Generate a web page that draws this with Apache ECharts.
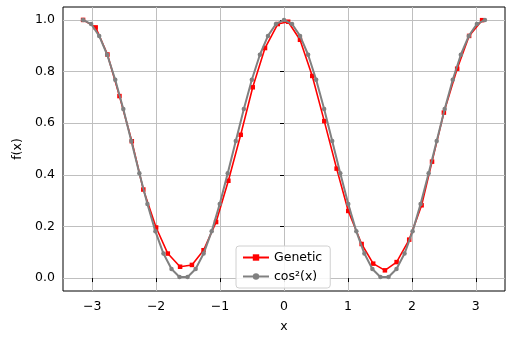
<!DOCTYPE html>
<html>
<head>
<meta charset="utf-8">
<script src="https://cdn.jsdelivr.net/npm/echarts@6/dist/echarts.min.js"></script>
<style>
  html, body { margin: 0; padding: 0; background: #fff; }
  #chart { width: 510px; height: 338px; }
</style>
</head>
<body>
<div id="chart"></div>
<script>
const geneticX = [-3.142, -2.945, -2.761, -2.573, -2.380, -2.200, -2.000, -1.817, -1.625, -1.440,
  -1.258, -1.062, -0.870, -0.677, -0.489, -0.297, -0.098, 0.065, 0.250, 0.442,
  0.630, 0.823, 1.005, 1.214, 1.395, 1.578, 1.761, 1.958, 2.152, 2.315,
  2.500, 2.708, 2.895, 3.098];
const geneticY = [1.000, 0.971, 0.866, 0.705, 0.530, 0.343, 0.196, 0.095, 0.044, 0.051,
  0.108, 0.217, 0.377, 0.555, 0.739, 0.891, 0.984, 0.993, 0.923, 0.783,
  0.608, 0.424, 0.260, 0.132, 0.056, 0.030, 0.062, 0.149, 0.282, 0.451,
  0.641, 0.811, 0.938, 0.999];

// cos²(x): grey dots
const cosX = [-3.142, -3.016, -2.890, -2.765, -2.639, -2.513, -2.388, -2.262, -2.136, -2.011,
  -1.885, -1.759, -1.634, -1.508, -1.382, -1.257, -1.131, -1.005, -0.880, -0.754,
  -0.628, -0.503, -0.377, -0.251, -0.126, 0.000, 0.126, 0.251, 0.377, 0.503,
  0.628, 0.754, 0.880, 1.005, 1.131, 1.257, 1.382, 1.508, 1.634, 1.759,
  1.885, 2.011, 2.136, 2.262, 2.388, 2.513, 2.639, 2.765, 2.890, 3.016, 3.142];
const cosY = [1.000, 0.984, 0.938, 0.865, 0.768, 0.655, 0.531, 0.406, 0.287, 0.181,
  0.095, 0.035, 0.004, 0.004, 0.035, 0.095, 0.181, 0.287, 0.406, 0.531,
  0.655, 0.768, 0.865, 0.938, 0.984, 1.000, 0.984, 0.938, 0.865, 0.768,
  0.655, 0.531, 0.406, 0.287, 0.181, 0.095, 0.035, 0.004, 0.004, 0.035,
  0.095, 0.181, 0.287, 0.406, 0.531, 0.655, 0.768, 0.865, 0.938, 0.984, 1.000];

const xTicks = [-3, -2, -1, 0, 1, 2, 3];
const yTicks = [0, 0.2, 0.4, 0.6, 0.8, 1.0];

const FONT = 'DejaVu Sans';

const chart = echarts.init(document.getElementById('chart'));

const minusFmt = function (v) {
  return v < 0 ? '\u2212' + Math.abs(v) : String(v);
};

const option = {
  animation: false,
  textStyle: { fontFamily: FONT },
  grid: {
    left: 63, right: 5, top: 7, bottom: 43,
    show: true, borderColor: '#000', borderWidth: 1, backgroundColor: 'transparent'
  },
  legend: {
    orient: 'vertical',
    left: 236, top: 246,
    itemWidth: 26, itemHeight: 8, itemGap: 6,
    padding: [5, 8, 5, 6],
    backgroundColor: 'rgba(255,255,255,0.85)',
    borderColor: '#d0d0d0', borderWidth: 1, borderRadius: 3,
    textStyle: { fontFamily: FONT, fontSize: 12.5, color: '#000' },
    data: ['Genetic', 'cos²(x)']
  },
  xAxis: {
    type: 'value',
    min: -3.456, max: 3.456,
    name: 'x', nameLocation: 'middle', nameGap: 29,
    nameTextStyle: { fontFamily: FONT, fontSize: 12.5, color: '#000' },
    axisLine: { show: false },
    axisTick: { show: true, length: 4, customValues: xTicks, lineStyle: { color: '#000', width: 1 } },
    axisLabel: { customValues: xTicks, formatter: minusFmt, margin: 9,
      fontFamily: FONT, fontSize: 12.5, color: '#000' },
    splitLine: { show: true, lineStyle: { color: '#bfbfbf', width: 1 } }
  },
  yAxis: {
    type: 'value',
    min: -0.05, max: 1.05,
    name: 'f(x)', nameLocation: 'middle', nameGap: 38,
    nameTextStyle: { fontFamily: FONT, fontSize: 12.5, color: '#000' },
    axisLine: { show: false },
    axisTick: { show: true, length: 4, customValues: yTicks, lineStyle: { color: '#000', width: 1 } },
    axisLabel: { customValues: yTicks, formatter: function (v) { return v.toFixed(1); }, margin: 8,
      fontFamily: FONT, fontSize: 12.5, color: '#000' },
    splitLine: { show: true, lineStyle: { color: '#bfbfbf', width: 1 } }
  },
  series: [
    {
      name: 'Genetic',
      type: 'line',
      data: geneticX.map((x, i) => [x, geneticY[i]]),
      symbol: 'rect', symbolSize: 4.5, showSymbol: true,
      lineStyle: { color: '#ff0000', width: 1.6 },
      itemStyle: { color: '#ff0000' },
      z: 3
    },
    {
      name: 'cos²(x)',
      type: 'line',
      data: cosX.map((x, i) => [x, cosY[i]]),
      symbol: 'circle', symbolSize: 4.5, showSymbol: true,
      lineStyle: { color: '#808080', width: 2 },
      itemStyle: { color: '#808080' },
      z: 4
    }
  ]
};

chart.setOption(option);
</script>
</body>
</html>
